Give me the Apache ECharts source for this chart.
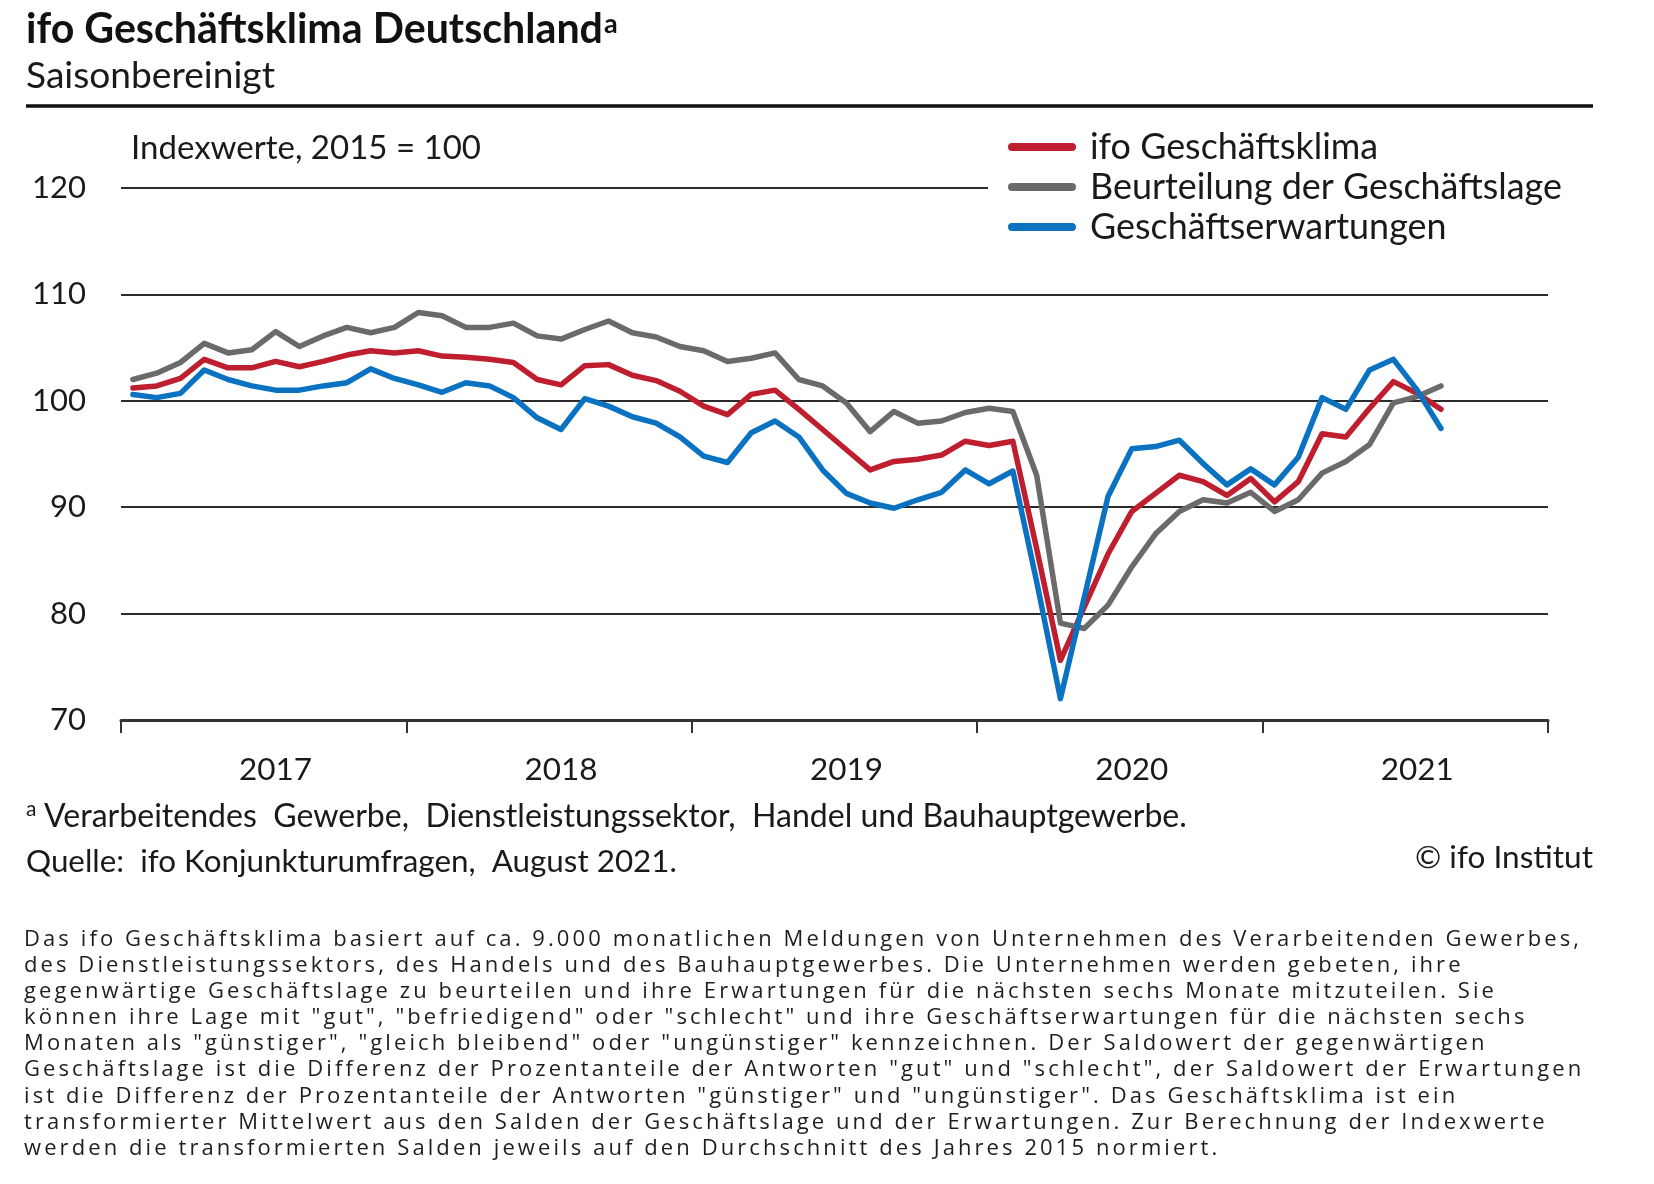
<!DOCTYPE html>
<html><head><meta charset="utf-8">
<script src="https://cdn.jsdelivr.net/npm/echarts@6/dist/echarts.min.js"></script>
<style>
html,body{margin:0;padding:0;background:#fff;}
#chart{position:absolute;left:0;top:0;width:1654px;height:1184px;}
#note{position:absolute;left:24px;top:924px;font-family:'Open Sans';font-size:22px;line-height:26.1px;color:#1e1e1e;white-space:pre;}
</style></head><body>
<div id="chart"></div>
<div id="note"></div>
<script>
// ---- data ----
const years = ['2017', '2018', '2019', '2020', '2021'];
const months = ['01','02','03','04','05','06','07','08','09','10','11','12'];
const categories = [];
years.forEach(y => months.forEach(m => categories.push(y + '-' + m)));

const seriesNames = ['ifo Geschäftsklima', 'Beurteilung der Geschäftslage', 'Geschäftserwartungen'];

// ifo Geschäftsklima (Jan 2017 – Aug 2021)
const klima = [
  101.2, 101.4, 102.1, 103.9, 103.1, 103.1, 103.7, 103.2, 103.7, 104.3, 104.7, 104.5,
  104.7, 104.2, 104.1, 103.9, 103.6, 102.0, 101.5, 103.3, 103.4, 102.4, 101.9, 100.9,
  99.5, 98.7, 100.6, 101.0, 99.2, 97.3, 95.4, 93.5, 94.3, 94.5, 94.9, 96.2,
  95.8, 96.2, 86.1, 75.6, 80.6, 85.6, 89.6, 91.3, 93.0, 92.4, 91.1, 92.7,
  90.5, 92.4, 96.9, 96.6, 99.3, 101.8, 100.7, 99.2
];
// Beurteilung der Geschäftslage
const lage = [
  102.0, 102.6, 103.6, 105.4, 104.5, 104.8, 106.5, 105.1, 106.1, 106.9, 106.4, 106.9,
  108.3, 108.0, 106.9, 106.9, 107.3, 106.1, 105.8, 106.7, 107.5, 106.4, 106.0, 105.1,
  104.7, 103.7, 104.0, 104.5, 102.0, 101.4, 99.8, 97.1, 99.0, 97.9, 98.1, 98.9,
  99.3, 99.0, 93.0, 79.1, 78.6, 80.8, 84.4, 87.5, 89.6, 90.7, 90.4, 91.4,
  89.6, 90.7, 93.2, 94.3, 95.9, 99.8, 100.4, 101.4
];
// Geschäftserwartungen
const erwartungen = [
  100.6, 100.3, 100.7, 102.9, 102.0, 101.4, 101.0, 101.0, 101.4, 101.7, 103.0, 102.1,
  101.5, 100.8, 101.7, 101.4, 100.3, 98.4, 97.3, 100.2, 99.5, 98.5, 97.9, 96.6,
  94.8, 94.2, 97.0, 98.1, 96.6, 93.5, 91.3, 90.4, 89.9, 90.7, 91.4, 93.5,
  92.2, 93.4, 83.0, 72.0, 81.5, 91.0, 95.5, 95.7, 96.3, 94.1, 92.1, 93.6,
  92.1, 94.7, 100.3, 99.2, 102.9, 103.9, 101.0, 97.4
];
const yMin = 70, yMax = 120, yStep = 10;

const noteLines = [
  'Das ifo Geschäftsklima basiert auf ca. 9.000 monatlichen Meldungen von Unternehmen des Verarbeitenden Gewerbes,',
  'des Dienstleistungssektors, des Handels und des Bauhauptgewerbes. Die Unternehmen werden gebeten, ihre',
  'gegenwärtige Geschäftslage zu beurteilen und ihre Erwartungen für die nächsten sechs Monate mitzuteilen. Sie',
  'können ihre Lage mit "gut", "befriedigend" oder "schlecht" und ihre Geschäftserwartungen für die nächsten sechs',
  'Monaten als "günstiger", "gleich bleibend" oder "ungünstiger" kennzeichnen. Der Saldowert der gegenwärtigen',
  'Geschäftslage ist die Differenz der Prozentanteile der Antworten "gut" und "schlecht", der Saldowert der Erwartungen',
  'ist die Differenz der Prozentanteile der Antworten "günstiger" und "ungünstiger". Das Geschäftsklima ist ein',
  'transformierter Mittelwert aus den Salden der Geschäftslage und der Erwartungen. Zur Berechnung der Indexwerte',
  'werden die transformierten Salden jeweils auf den Durchschnitt des Jahres 2015 normiert.'
];

// ---- styling helpers ----
const FONT = 'Lato';
const TXT = '#1a1a1a';
const RED = '#be1e2d', GRAY = '#6a6a6a', BLUE = '#0a72c0';
const cv = document.createElement('canvas').getContext('2d');
function fit(text, target, weight) {
  cv.font = (weight || 'normal') + ' 100px ' + FONT;
  return +(100 * target / cv.measureText(text).width).toFixed(2);
}
const sTitle = fit('ifo Geschäftsklima Deutschland', 577, 'bold');
const sSub = fit('Saisonbereinigt', 249);
const sLegend = fit('Beurteilung der Geschäftslage', 472);
const sIndex = fit('Indexwerte, 2015 = 100', 350);
const sY = fit('120', 54);
const sX = fit('2017', 73);
const footText = 'Verarbeitendes  Gewerbe,  Dienstleistungssektor,  Handel und Bauhauptgewerbe.';
const quelleText = 'Quelle:  ifo Konjunkturumfragen,  August 2021.';
const sFoot = fit(footText, 1143);
const sQuelle = fit(quelleText, 651);
const sCopy = fit('© ifo Institut', 178);

// paragraph
const note = document.getElementById('note');
note.textContent = noteLines.join('\n');
cv.font = '22px "Open Sans"';
const w0 = cv.measureText(noteLines[0]).width;
note.style.letterSpacing = ((1558 - w0) / noteLines[0].length).toFixed(2) + 'px';

function txt(x, y, text, size, extra) {
  return Object.assign({
    type: 'text', x: x, y: y, silent: true,
    style: Object.assign({ text: text, fontFamily: FONT, fontSize: size, fill: TXT,
      align: 'left', verticalAlign: 'middle' }, extra || {})
  });
}

const chart = echarts.init(document.getElementById('chart'), null, { renderer: 'canvas', width: 1654, height: 1184 });

function lineSeries(name, data, color) {
  return {
    name: name, type: 'line', data: data, symbol: 'none', smooth: false,
    lineStyle: { color: color, width: 5.5, cap: 'round', join: 'round' },
    itemStyle: { color: color }, emphasis: { disabled: true }, animation: false
  };
}

chart.setOption({
  backgroundColor: '#fff',
  animation: false,
  textStyle: { fontFamily: FONT },
  grid: { left: 121, right: 106, top: 188, bottom: 464, containLabel: false, outerBoundsMode: 'none' },
  legend: {
    orient: 'vertical', left: 988, top: 127, padding: [0, 8, 0, 20], itemGap: 0,
    itemWidth: 68, itemHeight: 8, backgroundColor: '#fff', selectedMode: false,
    icon: 'path://M4 0H64A4 4 0 0 1 64 8H4A4 4 0 0 1 4 0Z',
    itemStyle: { borderWidth: 0 },
    textStyle: { fontFamily: FONT, fontSize: sLegend, color: TXT, lineHeight: 40, padding: [0, 0, 0, 9] },
    data: seriesNames
  },
  xAxis: {
    type: 'category', data: categories, boundaryGap: true,
    axisLine: { show: true, lineStyle: { color: '#333', width: 3 } },
    axisTick: { show: true, interval: (i) => i % 12 === 0, length: 13, lineStyle: { color: '#333', width: 2 } },
    axisLabel: { interval: (i) => i % 12 === 6, formatter: (v) => v.slice(0, 4),
      fontFamily: FONT, fontSize: sX, color: TXT, margin: 33, lineHeight: 34 },
    splitLine: { show: false }
  },
  yAxis: {
    type: 'value', min: yMin, max: yMax, interval: yStep,
    axisLine: { show: false }, axisTick: { show: false },
    axisLabel: { fontFamily: FONT, fontSize: sY, color: TXT, margin: 35 },
    splitLine: { show: true, lineStyle: { color: '#2b2b2b', width: 1.8 } }
  },
  series: [
    lineSeries(seriesNames[0], klima, RED),
    lineSeries(seriesNames[1], lage, GRAY),
    lineSeries(seriesNames[2], erwartungen, BLUE)
  ],
  graphic: [
    txt(26, 30, 'ifo Geschäftsklima Deutschland', sTitle, { fontWeight: 'bold', fill: '#111' }),
    txt(604, 24, 'a', 27, { fontWeight: 'bold', fill: '#111' }),
    txt(26, 76, 'Saisonbereinigt', sSub),
    { type: 'line', silent: true, shape: { x1: 26, y1: 106, x2: 1593, y2: 106 }, style: { stroke: '#111', lineWidth: 3.5 } },
    txt(131, 148, 'Indexwerte, 2015 = 100', sIndex),
    txt(26, 809, 'a', 21),
    txt(44, 817, footText, sFoot),
    txt(26, 862, quelleText, sQuelle),
    txt(1593, 858, '© ifo Institut', sCopy, { align: 'right' })
  ]
});
</script>
</body></html>
